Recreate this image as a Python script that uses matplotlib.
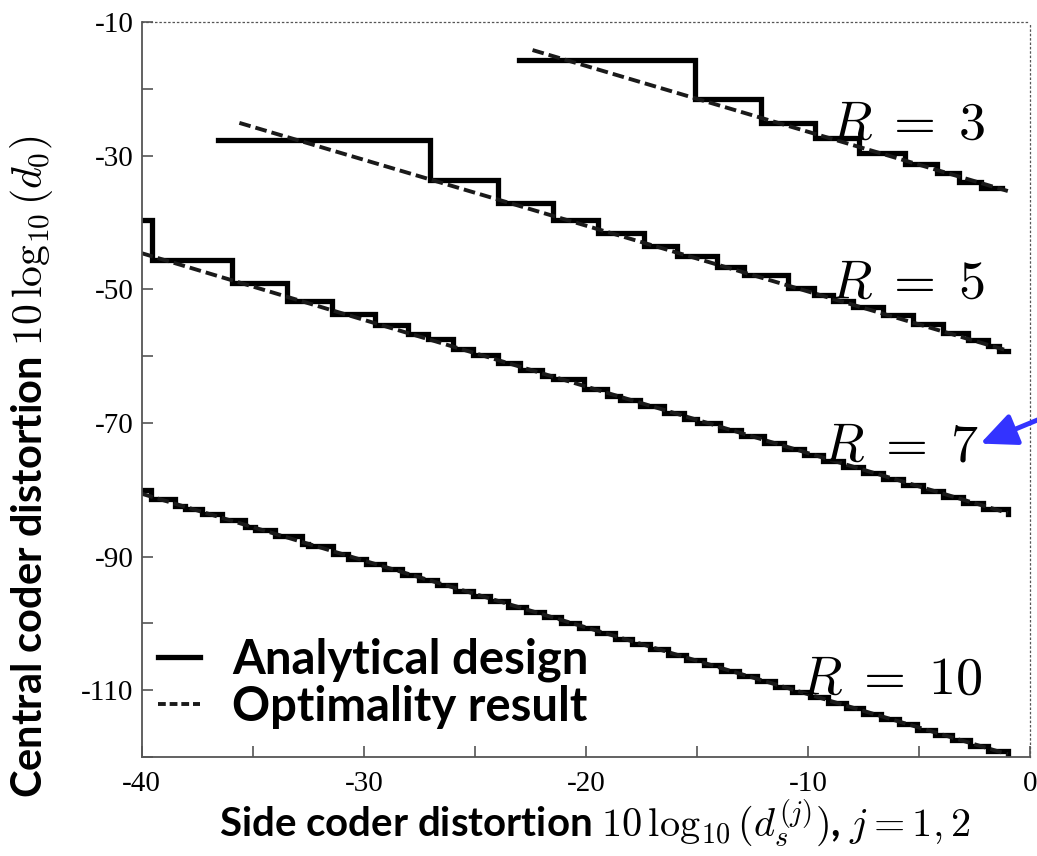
import matplotlib
matplotlib.use("Agg")
import matplotlib.pyplot as plt
from matplotlib.lines import Line2D

plt.rcParams['mathtext.fontset'] = 'cm'

# Analytical design: staircase break points (x) and level after each break (y)
r3_step_x = [-23.0, -15.1, -12.1, -9.7, -7.7, -5.65, -4.2, -3.2, -2.2, -1.25]
r3_step_y = [-15.7, -21.5, -25.1, -27.4, -29.6, -31.3, -32.6, -34.0, -34.9, -34.9]

r5_step_x = [-36.55, -27.0, -23.95, -21.5, -19.45, -17.4, -15.9, -14.1, -12.9, -10.9,
             -9.75, -8.85, -7.95, -6.6, -5.25, -3.9, -2.8, -1.9, -1.4, -1.0]
r5_step_y = [-27.7, -33.7, -37.1, -39.7, -41.6, -43.5, -45.0, -46.7, -47.9, -49.8,
             -50.9, -51.8, -52.6, -53.9, -55.2, -56.5, -57.6, -58.5, -59.2, -59.2]

r7_step_x = [-40.0, -39.55, -35.95, -33.47, -31.44, -29.5, -27.99, -27.09, -26.0, -25.1,
             -23.95, -22.96, -21.98, -21.47, -20.1, -19.04, -18.45, -17.55, -16.5, -15.6,
             -15.0, -13.95, -13.0, -12.0, -11.1, -10.2, -9.3, -8.4, -7.5, -6.6,
             -5.7, -4.8, -3.9, -3.0, -2.1, -1.0]
r7_step_y = [-39.7, -45.65, -49.05, -51.75, -53.75, -55.4, -56.65, -57.4, -59.0, -59.9,
             -61.05, -62.05, -63.0, -63.5, -64.9, -66.0, -66.55, -67.45, -68.5, -69.4,
             -70.0, -71.05, -72.0, -73.0, -73.9, -74.8, -75.7, -76.6, -77.5, -78.4,
             -79.3, -80.2, -81.1, -82.0, -82.9, -83.6]

r10_step_x = [-40.0, -39.6, -38.5, -38.05, -37.3, -36.4, -35.35, -34.9, -34.0, -32.8,
              -32.5, -31.4, -30.7, -29.9, -29.1, -28.3, -27.5, -26.7, -25.9, -25.1,
              -24.3, -23.5, -22.7, -21.9, -21.1, -20.3, -19.5, -18.7, -17.9, -17.1,
              -16.3, -15.5, -14.7, -13.9, -13.1, -12.3, -11.5, -10.7, -9.9, -9.1,
              -8.3, -7.5, -6.7, -5.9, -5.1, -4.3, -3.5, -2.7, -1.9, -1.0]
r10_step_y = [-80.1, -81.4, -82.5, -82.95, -83.7, -84.6, -85.65, -86.1, -87.0, -88.2,
              -88.5, -89.6, -90.3, -91.1, -91.9, -92.7, -93.5, -94.3, -95.1, -95.9,
              -96.7, -97.5, -98.3, -99.1, -99.9, -100.7, -101.5, -102.3, -103.1, -103.9,
              -104.7, -105.5, -106.3, -107.1, -107.9, -108.7, -109.5, -110.3, -111.1, -111.9,
              -112.7, -113.5, -114.3, -115.1, -115.9, -116.7, -117.5, -118.3, -119.1, -119.6]

# Optimality result: straight lines (end points)
opt_r3_x = [-22.4, -1.0]
opt_r3_y = [-14.2, -35.3]
opt_r5_x = [-35.6, -1.0]
opt_r5_y = [-25.1, -59.2]
opt_r7_x = [-40.0, -1.0]
opt_r7_y = [-44.6, -83.5]
opt_r10_x = [-40.0, -1.0]
opt_r10_y = [-80.6, -119.6]

rate_labels = [r'$R\;=\;3$', r'$R\;=\;5$', r'$R\;=\;7$', r'$R\;=\;10$']
rate_label_x = [-9.0, -9.0, -9.35, -10.35]
rate_label_y = [-27.4, -51.3, -75.6, -110.5]

x_major = [-40, -30, -20, -10, 0]
x_major_labels = ['-40', '-30', '-20', '-10', '0']
x_minor = [-35, -25, -15, -5]
y_major = [-110, -90, -70, -50, -30, -10]
y_major_labels = ['-110', '-90', '-70', '-50', '-30', '-10']
y_minor = [-120, -100, -80, -60, -40, -20]

fig = plt.figure(figsize=(10.37, 8.56), dpi=100)
ax = fig.add_axes([0.1366, 0.1157, 0.8567, 0.8586])

steps = [(r3_step_x, r3_step_y), (r5_step_x, r5_step_y),
         (r7_step_x, r7_step_y), (r10_step_x, r10_step_y)]
opts = [(opt_r3_x, opt_r3_y), (opt_r5_x, opt_r5_y),
        (opt_r7_x, opt_r7_y), (opt_r10_x, opt_r10_y)]

for sx, sy in steps:
    ax.step(sx, sy, where='post', color='black', lw=3.8, solid_joinstyle='miter')
for ox, oy in opts:
    ax.plot(ox, oy, color='#1a1a1a', lw=2.8, linestyle=(0, (3.0, 1.3)))

for txt, tx, ty in zip(rate_labels, rate_label_x, rate_label_y):
    ax.text(tx, ty, txt, fontsize=39, ha='left', va='baseline')

ax.annotate('', xy=(-2.24, -73.1), xytext=(0.6, -69.2), xycoords='data',
            arrowprops=dict(arrowstyle='-|>,head_length=2.2,head_width=1.0',
                            color='#3333ff', lw=3.5, shrinkA=0, shrinkB=0),
            annotation_clip=False)

ax.set_xlim(-40, 0)
ax.set_ylim(-120, -10)
ax.set_xticks(x_major, labels=x_major_labels)
ax.set_xticks(x_minor, minor=True)
ax.set_yticks(y_major, labels=y_major_labels)
ax.set_yticks(y_minor, minor=True)
ax.tick_params(which='both', direction='in', length=8, width=1.2, color='#555555',
               top=False, right=False)
for lab in ax.get_xticklabels() + ax.get_yticklabels():
    lab.set_fontfamily('Liberation Serif')
    lab.set_fontsize(21)
ax.tick_params(axis='x', pad=10)
ax.tick_params(axis='y', pad=6)

for side in ['left', 'bottom']:
    ax.spines[side].set_color('#555555')
    ax.spines[side].set_linewidth(1.3)
for side in ['top', 'right']:
    ax.spines[side].set_color('#555555')
    ax.spines[side].set_linewidth(0.9)
    ax.spines[side].set_linestyle((0, (1, 2.5)))

ax.set_xlabel(r'Side coder distortion $10\,\log_{10}(d_s^{(j)})$, $j=1,2$',
              fontsize=29, fontweight='bold', family='Lato')
ax.set_ylabel(r'Central coder distortion $10\,\log_{10}(d_0)$',
              fontsize=30, fontweight='bold', family='Lato')
ax.xaxis.set_label_coords(0.51, -0.056)
ax.yaxis.set_label_coords(-0.097, 0.395)

handles = [Line2D([], [], color='black', lw=3.8),
           Line2D([], [], color='#1a1a1a', lw=2.8, linestyle=(0, (2.0, 1.0)))]
ax.legend(handles, ['Analytical design', 'Optimality result'], loc='upper left',
          bbox_to_anchor=(-0.03, 0.22), frameon=False, handlelength=0.9,
          handletextpad=0.68, labelspacing=0.05,
          prop={'family': 'Lato', 'weight': 'bold', 'size': 34})

fig.savefig('out.png', dpi=100)
